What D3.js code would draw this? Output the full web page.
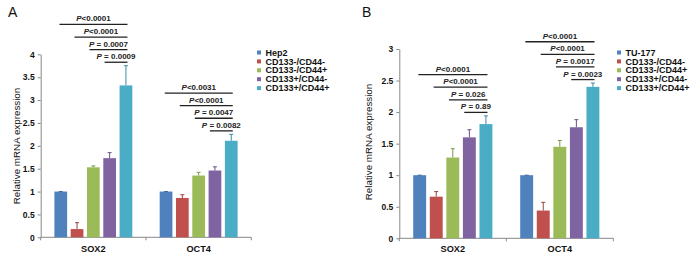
<!DOCTYPE html>
<html><head><meta charset="utf-8">
<script src="https://cdn.jsdelivr.net/npm/d3@7"></script>
<style>
html,body{margin:0;padding:0;background:#fff;}
svg{display:block;font-family:"Liberation Sans",Arial,sans-serif;}
</style></head>
<body><svg id="c" width="694" height="257"></svg>
<script>
const categories = ["SOX2", "OCT4"];
const seriesA = ["Hep2", "CD133-/CD44-", "CD133-/CD44+", "CD133+/CD44-", "CD133+/CD44+"];
const seriesB = ["TU-177", "CD133-/CD44-", "CD133-/CD44+", "CD133+/CD44-", "CD133+/CD44+"];
const colors = ["#4F81BD", "#C0504D", "#9BBB59", "#8064A2", "#4BACC6"];

const aSOX2 = [1.00, 0.18, 1.53, 1.73, 3.32];
const aSOX2Err = [0, 0.14, 0.03, 0.12, 0.43];
const aOCT4 = [1.00, 0.86, 1.35, 1.46, 2.11];
const aOCT4Err = [0, 0.07, 0.07, 0.08, 0.14];
const bSOX2 = [1.00, 0.66, 1.28, 1.60, 1.81];
const bSOX2Err = [0, 0.08, 0.14, 0.12, 0.13];
const bOCT4 = [1.00, 0.44, 1.45, 1.76, 2.40];
const bOCT4Err = [0, 0.13, 0.10, 0.12, 0.06];

const aSOX2P = ["<0.0001", "<0.0001", " = 0.0007", " = 0.0009"];
const aOCT4P = ["<0.0031", "<0.0001", " = 0.0047", " = 0.0082"];
const bSOX2P = ["<0.0001", "<0.0001", " = 0.026", " = 0.89"];
const bOCT4P = ["<0.0001", "<0.0001", " = 0.0017", " = 0.0023"];

const yTicksA = [0, 0.5, 1, 1.5, 2, 2.5, 3, 3.5, 4];
const yTicksB = [0, 0.5, 1, 1.5, 2, 2.5, 3];

const svg = d3.select("#c");
svg.append("rect").attr("width", 694).attr("height", 257).attr("fill", "#fff");

function panel(o) {
  const g = svg.append("g");
  const y = d3.scaleLinear().domain([0, o.yMax]).range([o.y0, o.yTop]);
  const x = d3.scaleBand().domain(categories).range([o.x0, o.x1]).padding(0);
  const x1 = d3.scaleBand().domain(d3.range(5)).range([0, x.bandwidth()]).paddingInner(0.22).paddingOuter(0.84);
  const bw = x1.bandwidth();

  // y axis
  const ya = g.append("g").attr("transform", `translate(${o.x0},0)`)
    .call(d3.axisLeft(y).tickValues(o.ticks).tickFormat(d3.format("")).tickSize(3).tickSizeOuter(0).tickPadding(3));
  ya.select(".domain").attr("stroke", "#888");
  ya.selectAll(".tick line").attr("stroke", "#888");
  ya.selectAll(".tick text").attr("font-size", 8.5).attr("font-weight", "bold").attr("fill", "#111")
    .attr("font-family", '"Liberation Sans",Arial,sans-serif');

  // x axis
  g.append("line").attr("x1", o.x0).attr("x2", o.x1).attr("y1", o.y0).attr("y2", o.y0).attr("stroke", "#888");
  const bounds = [x(categories[0]), x(categories[1]), x(categories[1]) + x.bandwidth()];
  g.selectAll(".xt").data(bounds).join("line")
    .attr("x1", d => d).attr("x2", d => d).attr("y1", o.y0).attr("y2", o.y0 + 3).attr("stroke", "#888");
  g.selectAll(".xl").data(categories).join("text")
    .attr("x", d => x(d) + x.bandwidth() / 2).attr("y", 251.5)
    .attr("text-anchor", "middle").attr("font-size", 9.2).attr("font-weight", "bold").attr("fill", "#111")
    .text(d => d);

  // bars
  o.groups.forEach((grp, gi) => {
    const cat = categories[gi];
    const gx = x(cat);
    grp.vals.forEach((v, i) => {
      const bx = gx + x1(i);
      const e = grp.err[i];
      const ec = d3.color(colors[i]).darker(0.6).formatHex();
      if (e > 0) {
        g.append("line").attr("x1", bx + bw / 2).attr("x2", bx + bw / 2)
          .attr("y1", y(v)).attr("y2", y(v + e)).attr("stroke", ec).attr("stroke-width", 1);
      }
      g.append("rect").attr("x", bx).attr("y", y(v)).attr("width", bw).attr("height", y(0) - y(v))
        .attr("fill", colors[i]);
      g.append("line").attr("x1", bx + bw / 2 - 2).attr("x2", bx + bw / 2 + 2)
        .attr("y1", y(v + e)).attr("y2", y(v + e)).attr("stroke", ec).attr("stroke-width", 1);
    });
    // significance brackets
    const top = d3.max(grp.vals.map((v, i) => v + grp.err[i]));
    const base = y(top) - 3.5;
    const endX = gx + x1(4) + bw * 0.62;
    grp.p.forEach((label, i) => {
      const ly = base - (3 - i) * 12.6;
      const sx = gx + x1(i) + bw * 0.4 - i * bw * 0.1;
      g.append("line").attr("x1", sx).attr("x2", endX).attr("y1", ly).attr("y2", ly)
        .attr("stroke", "#222").attr("stroke-width", 1.3);
      const t = g.append("text").attr("x", (sx + endX) / 2).attr("y", ly - 3)
        .attr("text-anchor", "middle").attr("font-size", 8).attr("font-weight", "bold").attr("fill", "#222");
      t.append("tspan").attr("font-style", "italic").text("P");
      t.append("tspan").text(label);
    });
  });

  // y title
  g.append("text").attr("transform", `translate(${o.titleX},${o.titleY}) rotate(-90)`)
    .attr("text-anchor", "middle").attr("dy", "0.35em").attr("font-size", 9.8).attr("fill", "#111")
    .text("Relative mRNA expression");

  // panel letter
  g.append("text").attr("x", o.letterX).attr("y", 17).attr("font-size", 14).attr("fill", "#111").text(o.letter);

  // legend
  const lg = g.append("g");
  o.series.forEach((s, i) => {
    const ry = 52.5 + i * 8.9;
    lg.append("rect").attr("x", o.legX).attr("y", ry - 2).attr("width", 4).attr("height", 4).attr("fill", colors[i]);
    lg.append("text").attr("x", o.legX + 8.5).attr("y", ry).attr("dy", "0.35em")
      .attr("font-size", 9).attr("font-weight", "bold").attr("fill", "#111").text(s);
  });
}

panel({
  x0: 40.7, x1: 251.3, y0: 237.3, yTop: 54.3, yMax: 4, ticks: yTicksA,
  groups: [{vals: aSOX2, err: aSOX2Err, p: aSOX2P}, {vals: aOCT4, err: aOCT4Err, p: aOCT4P}],
  titleX: 16.7, titleY: 146, letter: "A", letterX: 8, series: seriesA, legX: 257
});
panel({
  x0: 399.3, x1: 613.3, y0: 238.3, yTop: 49, yMax: 3, ticks: yTicksB,
  groups: [{vals: bSOX2, err: bSOX2Err, p: bSOX2P}, {vals: bOCT4, err: bOCT4Err, p: bOCT4P}],
  titleX: 368.3, titleY: 142, letter: "B", letterX: 362, series: seriesB, legX: 617
});
</script></body></html>
